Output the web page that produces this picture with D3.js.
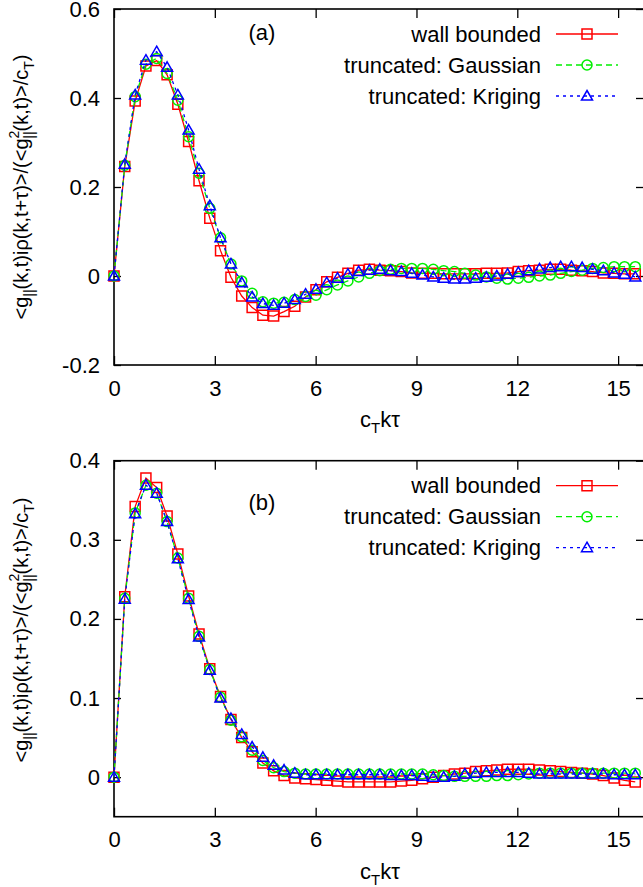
<!DOCTYPE html>
<html>
<head>
<meta charset="utf-8">
<script src="https://cdn.jsdelivr.net/npm/d3@7"></script>
<style>
  html, body { margin: 0; padding: 0; background: #fff; }
  svg { display: block; font-family: "Liberation Sans", Arial, sans-serif; }
</style>
</head>
<body>
<div id="chart"></div>
<script>
// c_T k tau values shared by every series
const tau = [0, 0.32, 0.63, 0.95, 1.27, 1.58, 1.90, 2.22, 2.53, 2.85,
             3.17, 3.48, 3.80, 4.11, 4.43, 4.75, 5.06, 5.38, 5.70, 6.01,
             6.33, 6.65, 6.96, 7.28, 7.60, 7.91, 8.23, 8.55, 8.86, 9.18,
             9.50, 9.81, 10.13, 10.44, 10.76, 11.08, 11.39, 11.71, 12.03, 12.34,
             12.66, 12.98, 13.29, 13.61, 13.93, 14.24, 14.56, 14.88, 15.19, 15.51];

// panel (a)
const wallA = [0, 0.246, 0.393, 0.472, 0.484, 0.452, 0.386, 0.302, 0.214, 0.130,
               0.057, -0.003, -0.045, -0.071, -0.088, -0.090, -0.080, -0.068, -0.047, -0.031,
               -0.013, -0.003, 0.006, 0.013, 0.015, 0.013, 0.012, 0.010, 0.007, 0.006,
               0.006, 0.005, 0.005, 0.005, 0.005, 0.006, 0.006, 0.007, 0.010, 0.012,
               0.013, 0.015, 0.015, 0.013, 0.012, 0.010, 0.007, 0.006, 0.005, 0.005];
const gaussA = [0, 0.249, 0.403, 0.476, 0.489, 0.455, 0.395, 0.313, 0.231, 0.152,
                0.086, 0.027, -0.011, -0.039, -0.058, -0.061, -0.059, -0.053, -0.046, -0.043,
                -0.031, -0.020, -0.011, -0.002, 0.006, 0.012, 0.015, 0.017, 0.017, 0.017,
                0.015, 0.012, 0.010, 0.006, 0.002, -0.002, -0.005, -0.007, -0.005, -0.003,
                0.000, 0.002, 0.006, 0.010, 0.013, 0.017, 0.019, 0.021, 0.021, 0.021];
const krigA = [0, 0.251, 0.407, 0.485, 0.504, 0.469, 0.407, 0.328, 0.240, 0.158,
               0.086, 0.027, -0.015, -0.047, -0.062, -0.066, -0.061, -0.053, -0.041, -0.030,
               -0.015, -0.005, 0.004, 0.010, 0.013, 0.015, 0.012, 0.010, 0.006, 0.002,
               -0.002, -0.005, -0.007, -0.007, -0.005, -0.003, 0.000, 0.004, 0.008, 0.012,
               0.016, 0.019, 0.021, 0.021, 0.019, 0.015, 0.012, 0.007, 0.004, -0.002];

// panel (b)
const wallB = [0, 0.228, 0.342, 0.378, 0.366, 0.330, 0.282, 0.229, 0.181, 0.137,
               0.102, 0.073, 0.050, 0.032, 0.018, 0.008, 0.002, -0.001, -0.002, -0.003,
               -0.004, -0.005, -0.006, -0.006, -0.006, -0.006, -0.006, -0.005, -0.004, -0.002,
               0.000, 0.002, 0.004, 0.005, 0.007, 0.008, 0.009, 0.010, 0.010, 0.010,
               0.009, 0.008, 0.007, 0.006, 0.005, 0.004, 0.002, -0.001, -0.004, -0.006];
const gaussB = [0, 0.226, 0.334, 0.369, 0.359, 0.323, 0.277, 0.226, 0.178, 0.136,
                0.101, 0.072, 0.051, 0.034, 0.021, 0.012, 0.007, 0.005, 0.004, 0.004,
                0.004, 0.004, 0.004, 0.004, 0.004, 0.004, 0.004, 0.004, 0.004, 0.004,
                0.003, 0.002, 0.001, 0.001, 0.001, 0.001, 0.002, 0.002, 0.003, 0.004,
                0.005, 0.005, 0.005, 0.005, 0.005, 0.005, 0.005, 0.005, 0.005, 0.005];
const krigB = [0, 0.225, 0.333, 0.369, 0.359, 0.323, 0.276, 0.2245, 0.177, 0.135,
               0.100, 0.074, 0.054, 0.038, 0.025, 0.015, 0.009, 0.005, 0.003, 0.003,
               0.003, 0.003, 0.003, 0.003, 0.003, 0.003, 0.002, 0.002, 0.002, 0.001,
               0.000, 0.000, 0.001, 0.004, 0.005, 0.006, 0.006, 0.006, 0.006, 0.005,
               0.004, 0.004, 0.004, 0.004, 0.004, 0.004, 0.004, 0.003, 0.003, 0.003];

const seriesNames = ['wall bounded', 'truncated: Gaussian', 'truncated: Kriging'];
const xTicks = [0, 3, 6, 9, 12, 15];
const yTicksA = [-0.2, 0, 0.2, 0.4, 0.6];
const yTicksB = [0, 0.1, 0.2, 0.3, 0.4];

const width = 643;
const height = 887;
const left = 114;
const right = 644;
const fontSize = 22;

const styles = [
     {color: '#ff0000', dash: null, marker: 'square'},
     {color: '#00ee00', dash: '6,4', marker: 'circle'},
     {color: '#0000ff', dash: '3,4', marker: 'triangle'}
];

window.onload = function() {

     const svg = d3.select('#chart')
          .append('svg')
               .attr('width', width)
               .attr('height', height);

     const xScale = d3.scaleLinear()
          .domain([0, 15.77])
          .range([left, right]);

     drawPanel(svg, xScale, {
          top: 9, bottom: 365, domain: [-0.2, 0.6], ticks: yTicksA,
          series: [wallA, gaussA, krigA], tag: '(a)', tagY: 32, labelY: 187
     });
     drawPanel(svg, xScale, {
          top: 460.7, bottom: 816.7, domain: [-0.05, 0.4], ticks: yTicksB,
          series: [wallB, gaussB, krigB], tag: '(b)', tagY: 502, labelY: 630
     });
};

function drawPanel(svg, xScale, p) {
     const yScale = d3.scaleLinear()
          .domain(p.domain)
          .range([p.bottom, p.top]);

     const g = svg.append('g');

     // clip the curves to the frame
     const clipId = 'clip' + p.tag.replace(/\W/g, '');
     g.append('clipPath').attr('id', clipId)
          .append('rect')
               .attr('x', left - 8).attr('y', p.top)
               .attr('width', right - left + 8).attr('height', p.bottom - p.top);

     // axes, ticks pointing inwards on all four sides
     g.append('g')
          .attr('transform', `translate(0, ${p.bottom})`)
          .call(d3.axisBottom(xScale).tickValues(xTicks).tickSize(-9).tickPadding(15).tickFormat(d3.format('d')));
     g.append('g')
          .attr('transform', `translate(0, ${p.top})`)
          .call(d3.axisTop(xScale).tickValues(xTicks).tickSize(-9).tickFormat(''));
     g.append('g')
          .attr('transform', `translate(${left}, 0)`)
          .call(d3.axisLeft(yScale).tickValues(p.ticks).tickSize(-7).tickPadding(14).tickFormat(d => String(d)));
     g.append('g')
          .attr('transform', `translate(${right}, 0)`)
          .call(d3.axisRight(yScale).tickValues(p.ticks).tickSize(-8).tickFormat(''));

     g.selectAll('.domain').remove();
     g.selectAll('.tick line').attr('stroke', '#000').attr('stroke-width', 1.3);
     g.selectAll('.tick text')
          .attr('fill', '#000')
          .style('font-size', fontSize + 'px')
          .style('font-family', '"Liberation Sans", Arial, sans-serif');

     g.append('rect')
          .attr('x', left).attr('y', p.top)
          .attr('width', right - left).attr('height', p.bottom - p.top)
          .attr('fill', 'none')
          .attr('stroke', '#000')
          .attr('stroke-width', 1.6);

     // curves and markers
     const line = d3.line()
          .x((d, i) => xScale(tau[i]))
          .y(d => yScale(d));

     const plot = g.append('g').attr('clip-path', `url(#${clipId})`);
     p.series.forEach((values, s) => {
          const st = styles[s];
          plot.append('path')
               .datum(values)
               .attr('d', line)
               .attr('fill', 'none')
               .attr('stroke', st.color)
               .attr('stroke-width', 1.3)
               .attr('stroke-dasharray', st.dash);
          plot.selectAll('.m' + s)
               .data(values)
               .enter()
                    .append('path')
                         .attr('class', 'm' + s)
                         .attr('d', markerPath(st.marker))
                         .attr('transform', (d, i) => `translate(${xScale(tau[i])}, ${yScale(d)})`)
                         .attr('fill', 'none')
                         .attr('stroke', st.color)
                         .attr('stroke-width', 1.5);
     });

     // legend
     const rowOffsets = [25, 56, 87];
     seriesNames.forEach((name, s) => {
          const st = styles[s];
          const ry = p.top + rowOffsets[s];
          g.append('text')
               .attr('x', 541)
               .attr('y', ry + 7.5)
               .attr('text-anchor', 'end')
               .style('font-size', fontSize + 'px')
               .text(name);
          g.append('line')
               .attr('x1', 556).attr('x2', 618)
               .attr('y1', ry).attr('y2', ry)
               .attr('stroke', st.color)
               .attr('stroke-width', 1.3)
               .attr('stroke-dasharray', st.dash);
          g.append('path')
               .attr('d', markerPath(st.marker))
               .attr('transform', `translate(587, ${ry})`)
               .attr('fill', 'none')
               .attr('stroke', st.color)
               .attr('stroke-width', 1.5);
     });

     // panel tag
     g.append('text')
          .attr('x', 262)
          .attr('y', p.tagY + 7.5)
          .attr('text-anchor', 'middle')
          .style('font-size', fontSize + 'px')
          .text(p.tag);

     // x title
     const xt = g.append('text')
          .attr('x', 380)
          .attr('y', p.bottom + 62)
          .attr('text-anchor', 'middle')
          .style('font-size', fontSize + 'px');
     xt.append('tspan').text('c');
     xt.append('tspan').attr('dy', 6).style('font-size', '15px').text('T');
     xt.append('tspan').attr('dy', -6).text('kτ');

     // y title
     const yt = g.append('text')
          .attr('transform', `translate(28, ${p.labelY}) rotate(-90)`)
          .attr('text-anchor', 'middle')
          .style('font-size', '20px');
     yt.append('tspan').text('<g');
     yt.append('tspan').attr('dy', 6).style('font-size', '14px').text('||');
     yt.append('tspan').attr('dy', -6).text('(k,t)iρ(k,t+τ)>/(<g');
     yt.append('tspan').attr('dy', -9).style('font-size', '14px').text('2');
     yt.append('tspan').attr('dx', -8).attr('dy', 15).style('font-size', '14px').text('||');
     yt.append('tspan').attr('dy', -6).text('(k,t)>/c');
     yt.append('tspan').attr('dy', 6).style('font-size', '14px').text('T');
     yt.append('tspan').attr('dy', -6).text(')');
}

function markerPath(kind) {
     if (kind === 'square') {
          return 'M-5,-5H5V5H-5Z';
     }
     if (kind === 'circle') {
          return 'M5,0A5,5 0 1,1 -5,0A5,5 0 1,1 5,0Z';
     }
     return 'M0,-5.5L5.5,4L-5.5,4Z';
}
</script>
</body>
</html>
